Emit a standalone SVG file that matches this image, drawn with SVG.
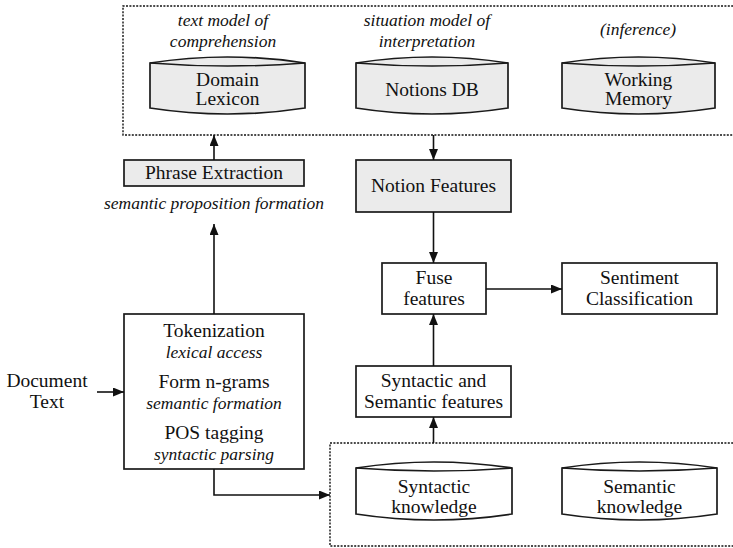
<svg xmlns="http://www.w3.org/2000/svg" width="733" height="548" viewBox="0 0 733 548">
<style>
  text { font-family: 'Liberation Serif', 'DejaVu Serif', serif; fill: #111; text-anchor: middle; }
  .r { font-size: 19.5px; }
  .i { font-size: 17.5px; font-style: italic; }
  .box { stroke: #1a1a1a; stroke-width: 1.7; }
  .g { fill: #ebebeb; }
  .w { fill: #ffffff; }
  .cyl { stroke: #1a1a1a; stroke-width: 1.7; }
  .lens { fill: none; stroke: #1a1a1a; stroke-width: 1.5; }
  .dash { fill: none; stroke: #111; stroke-width: 1.4; stroke-dasharray: 2 1.4; }
  .conn { fill: none; stroke: #111; stroke-width: 1.6; }
</style>
<defs>
  <marker id="arr" markerUnits="userSpaceOnUse" markerWidth="11" markerHeight="9" refX="11" refY="4.5" orient="auto">
    <path d="M0,0 L11,4.5 L0,9 Z" fill="#111"/>
  </marker>
</defs>
<rect width="733" height="548" fill="#ffffff"/>

<g id="knowledge-top">
  <path class="dash" d="M740,6 H123 V135 H740"/>
</g>
<g id="knowledge-bottom">
  <path class="dash" d="M740,443 H330 V546 H740"/>
</g>

<g id="label-text-model">
  <text class="i" x="223" y="26">text model of</text>
  <text class="i" x="223" y="47">comprehension</text>
</g>
<g id="label-situation-model">
  <text class="i" x="427" y="26">situation model of</text>
  <text class="i" x="427" y="47">interpretation</text>
</g>
<g id="label-inference">
  <text class="i" x="638" y="35">(inference)</text>
</g>

<g id="domain-lexicon">
  <path class="cyl g" d="M150,63 Q227.5,51 305,63 L305,108 Q227.5,120 150,108 Z"/>
  <path class="lens" d="M150,63 Q227.5,69 305,63"/>
  <text class="r" x="227.5" y="86">Domain</text>
  <text class="r" x="227.5" y="105">Lexicon</text>
</g>
<g id="notions-db">
  <path class="cyl g" d="M356,63 Q432,51 508,63 L508,108 Q432,120 356,108 Z"/>
  <path class="lens" d="M356,63 Q432,69 508,63"/>
  <text class="r" x="432" y="96">Notions DB</text>
</g>
<g id="working-memory">
  <path class="cyl g" d="M562,63 Q638.5,51 715,63 L715,108 Q638.5,120 562,108 Z"/>
  <path class="lens" d="M562,63 Q638.5,69 715,63"/>
  <text class="r" x="638.5" y="86">Working</text>
  <text class="r" x="638.5" y="105">Memory</text>
</g>

<g id="phrase-extraction">
  <rect class="box g" x="124" y="160" width="180" height="26"/>
  <text class="r" x="214" y="179">Phrase Extraction</text>
</g>
<g id="label-semantic-proposition">
  <text class="i" x="214" y="209">semantic proposition formation</text>
</g>

<g id="notion-features">
  <rect class="box g" x="356" y="160" width="155" height="52"/>
  <text class="r" x="433.5" y="192">Notion Features</text>
</g>

<g id="fuse-features">
  <rect class="box w" x="382" y="263" width="104" height="51"/>
  <text class="r" x="434" y="284">Fuse</text>
  <text class="r" x="434" y="305">features</text>
</g>

<g id="sentiment-classification">
  <rect class="box w" x="562" y="263" width="155" height="51"/>
  <text class="r" x="639.5" y="284">Sentiment</text>
  <text class="r" x="639.5" y="305">Classification</text>
</g>

<g id="syn-sem-features">
  <rect class="box w" x="356" y="366" width="155" height="51"/>
  <text class="r" x="433.5" y="387">Syntactic and</text>
  <text class="r" x="433.5" y="408">Semantic features</text>
</g>

<g id="preprocessing">
  <rect class="box w" x="124" y="314" width="180" height="155"/>
  <text class="r" x="214" y="337">Tokenization</text>
  <text class="i" x="214" y="358">lexical access</text>
  <text class="r" x="214" y="388">Form n-grams</text>
  <text class="i" x="214" y="409">semantic formation</text>
  <text class="r" x="214" y="439">POS tagging</text>
  <text class="i" x="214" y="460">syntactic parsing</text>
</g>

<g id="document-text">
  <text class="r" x="47" y="387">Document</text>
  <text class="r" x="47" y="408">Text</text>
</g>

<g id="syntactic-knowledge">
  <path class="cyl w" d="M356,468 Q434,456 512,468 L512,514 Q434,526 356,514 Z"/>
  <path class="lens" d="M356,468 Q434,474 512,468"/>
  <text class="r" x="434" y="493">Syntactic</text>
  <text class="r" x="434" y="513">knowledge</text>
</g>
<g id="semantic-knowledge">
  <path class="cyl w" d="M562,468 Q639.5,456 717,468 L717,514 Q639.5,526 562,514 Z"/>
  <path class="lens" d="M562,468 Q639.5,474 717,468"/>
  <text class="r" x="639.5" y="493">Semantic</text>
  <text class="r" x="639.5" y="513">knowledge</text>
</g>

<g id="connectors">
  <path class="conn" d="M214,160 V135" marker-end="url(#arr)"/>
  <path class="conn" d="M214,314 V224" marker-end="url(#arr)"/>
  <path class="conn" d="M433.5,135 V160" marker-end="url(#arr)"/>
  <path class="conn" d="M433.5,212 V263" marker-end="url(#arr)"/>
  <path class="conn" d="M486,289 H562" marker-end="url(#arr)"/>
  <path class="conn" d="M433.5,366 V314" marker-end="url(#arr)"/>
  <path class="conn" d="M433.5,443 V417" marker-end="url(#arr)"/>
  <path class="conn" d="M97,392 H124" marker-end="url(#arr)"/>
  <path class="conn" d="M214,469 V495 H330" marker-end="url(#arr)"/>
</g>
</svg>
